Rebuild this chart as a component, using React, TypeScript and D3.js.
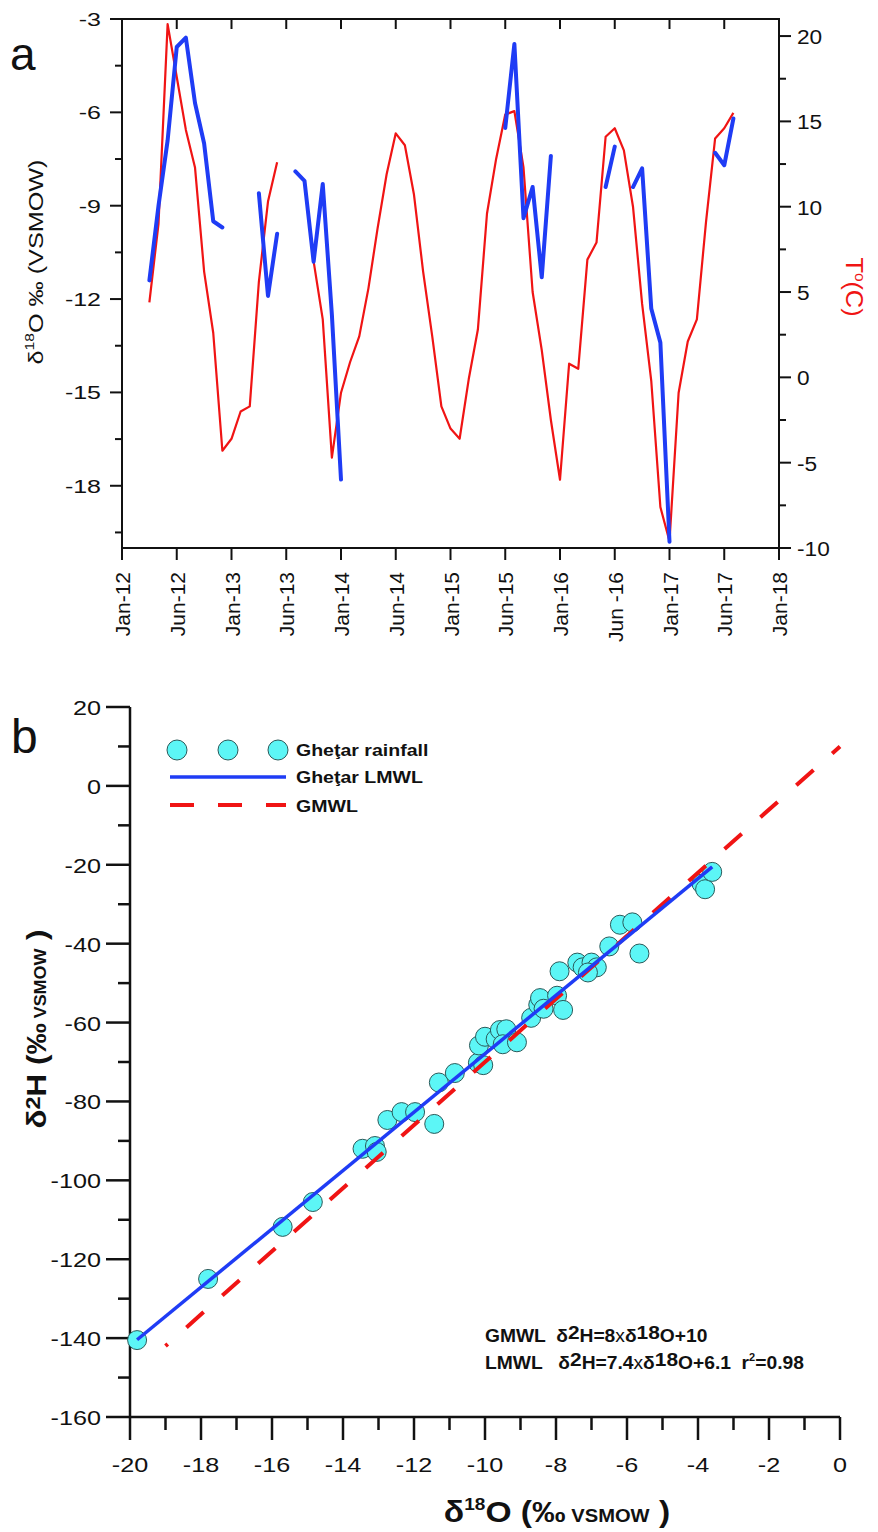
import React from "react";
import * as d3 from "d3";

// panel a: monthly series, month 0 = Jan 2012, null = no sample
const monthTickLabels = ["Jan-12", "Jun-12", "Jan-13", "Jun-13", "Jan-14", "Jun-14", "Jan-15", "Jun-15", "Jan-16", "Jun -16", "Jan-17", "Jun-17", "Jan-18"];
const seriesStartMonth = 3;
const tempValues = [
  4.4, 9.0, 20.7, 17.6, 14.5, 12.3, 6.2, 2.6, -4.3, -3.6, -2.0, -1.7, 5.6, 10.3, 12.6,
  null, null, null,
  6.8, 3.4, -4.7, -0.9, 0.9, 2.4, 5.2, 8.7, 11.9, 14.3, 13.6, 10.7, 6.2, 2.4, -1.7, -3.0, -3.6,
  -0.1, 2.8, 9.6, 12.8, 15.4, 15.6, 12.3, 5.0, 1.6, -2.5, -6.0, 0.8, 0.5, 6.9, 7.9, 14.1, 14.6,
  13.3, 10.0, 4.3, -0.2, -7.6, -9.6, -0.9, 2.1, 3.4, 9.1, 14.0, 14.6, 15.5,
];
const d18OValues = [
  -11.4, -9.0, -6.9, -3.9, -3.6, -5.7, -7.0, -9.5, -9.7,
  null, null, null,
  -8.6, -11.9, -9.9,
  null,
  -7.9, -8.2, -10.8, -8.3, -12.5, -17.8,
  null, null, null, null, null, null, null, null, null, null, null, null, null, null, null, null, null,
  -6.5, -3.8, -9.4, -8.4, -11.3, -7.4,
  null, null, null, null, null,
  -8.4, -7.1,
  null,
  -8.4, -7.8, -12.3, -13.4, -19.8,
  null, null, null, null,
  -7.3, -7.7, -6.2,
];

// panel b: rainfall samples
const rainD18O = [
  -19.8, -17.8, -15.7, -14.85, -13.45, -13.1, -13.05, -12.75, -12.35, -11.97, -11.43, -11.3, -10.85,
  -10.2, -10.05, -10.17, -10.0, -9.7, -9.58, -9.4, -9.5, -9.1, -8.7, -8.5, -8.45, -8.35, -7.97, -7.8,
  -7.9, -7.4, -7.25, -7.0, -6.85, -7.1, -6.5, -6.2, -5.85, -5.65, -3.9, -3.8, -3.6,
];
const rainD2H = [
  -140.5, -125, -111.8, -105.5, -92, -91.3, -92.8, -84.7, -82.7, -82.7, -85.7, -75.2, -72.8,
  -70.2, -70.8, -65.8, -63.6, -64.2, -61.9, -61.7, -65.5, -65, -58.8, -55.5, -53.8, -56.5, -53.2, -56.8,
  -47, -44.8, -46, -44.8, -46, -47.3, -40.7, -35.2, -34.6, -42.5, -24.8, -26.2, -21.8,
];
const gmwl = { slope: 8, intercept: 10, from: -19, to: 0 };
const lmwl = { slope: 7.4, intercept: 6.1, from: -19.8, to: -3.6 };
const legendLabels = ["Gheţar rainfall", "Gheţar LMWL", "GMWL"];

const FONT = "'Liberation Sans', Arial, sans-serif";
const BLUE = "#1f3cf5";
const RED = "#f01414";
const CYAN = "#5cf6f6";

// text helper: stretched horizontally like the source figure
const T = ({ x, y, rot = 0, sx = 1.2, size = 20, anchor = "start", weight = "normal", fill = "#111", children }: any) => (
  <text
    transform={`translate(${x},${y}) rotate(${rot}) scale(${sx},1)`}
    fontSize={size}
    textAnchor={anchor}
    fontWeight={weight}
    fill={fill}
    fontFamily={FONT}
    style={{ whiteSpace: "pre" }}
  >
    {children}
  </text>
);

const App = () => {
  // ---- panel a
  const xA = d3.scaleLinear().domain([0, 72]).range([122, 779]);
  const yO = d3.scaleLinear().domain([-20, -3]).range([548, 19]);
  const yT = d3.scaleLinear().domain([-10, 21]).range([548, 19]);

  const tempPts = tempValues.map((v, i) => [seriesStartMonth + i, v] as [number, number | null]);
  const oPts = d18OValues.map((v, i) => [seriesStartMonth + i, v] as [number, number | null]);

  const tempLine = d3.line<[number, number | null]>()
    .defined(d => d[1] != null)
    .x(d => xA(d[0]))
    .y(d => yT(d[1] as number));
  const oLine = d3.line<[number, number | null]>()
    .defined(d => d[1] != null)
    .x(d => xA(d[0]))
    .y(d => yO(d[1] as number));

  const monthTicks = d3.range(0, 73, 6);
  const oMajor = d3.range(-18, -2, 3);
  const oMinor = d3.range(-19.5, -3, 3);
  const tMajor = d3.range(-10, 21, 5);
  const tMinor = d3.range(-7.5, 20, 5);

  // ---- panel b
  const xB = d3.scaleLinear().domain([-20, 0]).range([130, 840]);
  const yB = d3.scaleLinear().domain([-160, 20]).range([1417, 707]);
  const bxMajor = d3.range(-20, 1, 2);
  const bxMinor = d3.range(-19, 0, 2);
  const byMajor = d3.range(-160, 21, 20);
  const byMinor = d3.range(-150, 20, 20);

  const wl = (l: typeof gmwl) =>
    d3.line<number>().x(v => xB(v)).y(v => yB(l.slope * v + l.intercept))([l.from, l.to]) as string;

  const ax = { stroke: "#111", strokeWidth: 2, fill: "none" };

  return (
    <svg width={878} height={1532} style={{ position: "absolute", left: 0, top: 0, background: "#fff" }}>
      {/* ================= panel a ================= */}
      <T x={10} y={70} size={46} sx={1}>a</T>
      <rect x={xA(0)} y={yO(-3)} width={xA(72) - xA(0)} height={yO(-20) - yO(-3)} {...ax} />
      {monthTicks.map((m, i) => (
        <g key={"mt" + m}>
          <line x1={xA(m)} x2={xA(m)} y1={548} y2={560} {...ax} />
          {m > 0 && m < 72 && <line x1={xA(m)} x2={xA(m)} y1={19} y2={29} {...ax} />}
          <T x={xA(m) + 8} y={572} rot={-90} sx={1} size={21} anchor="end">{monthTickLabels[i]}</T>
        </g>
      ))}
      {oMajor.map(v => (
        <g key={"om" + v}>
          <line x1={110} x2={122} y1={yO(v)} y2={yO(v)} {...ax} />
          <T x={101} y={yO(v) + 7} size={18.5} sx={1.35} anchor="end">{v}</T>
        </g>
      ))}
      {oMinor.map(v => <line key={"on" + v} x1={115} x2={122} y1={yO(v)} y2={yO(v)} {...ax} />)}
      {tMajor.map(v => (
        <g key={"tm" + v}>
          <line x1={779} x2={791} y1={yT(v)} y2={yT(v)} {...ax} />
          <T x={797} y={yT(v) + 8} size={21} sx={1.08}>{v}</T>
        </g>
      ))}
      {tMinor.map(v => <line key={"tn" + v} x1={779} x2={786} y1={yT(v)} y2={yT(v)} {...ax} />)}

      <path d={tempLine(tempPts) as string} fill="none" stroke={RED} strokeWidth={2.2} strokeLinejoin="round" />
      <path d={oLine(oPts) as string} fill="none" stroke={BLUE} strokeWidth={4} strokeLinejoin="round" strokeLinecap="round" />

      <text transform="translate(43,262) rotate(-90) scale(1.2,1)" textAnchor="middle" fontSize={21} fontFamily={FONT} fill="#111">
        δ<tspan fontSize={13} dy={-9}>18</tspan><tspan dy={9}>O ‰ (VSMOW)</tspan>
      </text>
      <text transform="translate(846,287) rotate(90) scale(1.1,1)" textAnchor="middle" fontSize={23} fontFamily={FONT} fill={RED}>
        T<tspan fontSize={14} dy={-9}>o</tspan><tspan dy={9}>(C)</tspan>
      </text>

      {/* ================= panel b ================= */}
      <T x={11} y={753} size={48} sx={1}>b</T>
      <line x1={130} x2={130} y1={yB(20)} y2={yB(-160)} {...ax} strokeWidth={2.5} />
      <line x1={xB(-20)} x2={xB(0)} y1={1417} y2={1417} {...ax} strokeWidth={2.5} />
      {byMajor.map(v => (
        <g key={"bym" + v}>
          <line x1={106} x2={130} y1={yB(v)} y2={yB(v)} {...ax} strokeWidth={2.5} />
          <T x={101} y={yB(v) + 8} size={21} anchor="end">{v}</T>
        </g>
      ))}
      {byMinor.map(v => <line key={"byn" + v} x1={118} x2={130} y1={yB(v)} y2={yB(v)} {...ax} strokeWidth={2.5} />)}
      {bxMajor.map(v => (
        <g key={"bxm" + v}>
          <line x1={xB(v)} x2={xB(v)} y1={1417} y2={1440} {...ax} strokeWidth={2.5} />
          <T x={xB(v)} y={1472} size={21} anchor="middle">{v}</T>
        </g>
      ))}
      {bxMinor.map(v => <line key={"bxn" + v} x1={xB(v)} x2={xB(v)} y1={1417} y2={1430} {...ax} strokeWidth={2.5} />)}

      {rainD18O.map((x, i) => (
        <circle key={"p" + i} cx={xB(x)} cy={yB(rainD2H[i])} r={9.5} fill={CYAN} stroke="#2a5a5a" strokeWidth={1} />
      ))}
      <path d={wl(gmwl)} fill="none" stroke={RED} strokeWidth={4} strokeDasharray="23 25" strokeDashoffset={20} />
      <path d={wl(lmwl)} fill="none" stroke={BLUE} strokeWidth={3.5} />

      {/* legend */}
      {[177, 228, 278].map(cx => (
        <circle key={"lc" + cx} cx={cx} cy={750} r={10} fill={CYAN} stroke="#2a5a5a" strokeWidth={1} />
      ))}
      <line x1={170} x2={286} y1={777} y2={777} stroke={BLUE} strokeWidth={3.5} />
      <line x1={170} x2={286} y1={805} y2={805} stroke={RED} strokeWidth={4} strokeDasharray="24 24" />
      <T x={296} y={756} size={17} weight="bold" sx={1.15}>{legendLabels[0]}</T>
      <T x={296} y={783} size={17} weight="bold" sx={1.15}>{legendLabels[1]}</T>
      <T x={296} y={812} size={17} weight="bold" sx={1.15}>{legendLabels[2]}</T>

      {/* equations */}
      <text transform="translate(485,1342) scale(1.1,1)" fontSize={17.5} fontWeight="bold" fontFamily={FONT} fill="#111" style={{ whiteSpace: "pre" }}>
        {"GMWL  δ"}<tspan fontSize={19} dy={-3}>2</tspan><tspan dy={3}>{"H=8"}</tspan><tspan fontWeight="normal">x</tspan>{"δ"}
        <tspan fontSize={19} dy={-3}>18</tspan><tspan dy={3}>{"O+10"}</tspan>
      </text>
      <text transform="translate(485,1369) scale(1.1,1)" fontSize={17.5} fontWeight="bold" fontFamily={FONT} fill="#111" style={{ whiteSpace: "pre" }}>
        {"LMWL   δ"}<tspan fontSize={19} dy={-3}>2</tspan><tspan dy={3}>{"H=7.4"}</tspan><tspan fontWeight="normal">x</tspan>{"δ"}
        <tspan fontSize={19} dy={-3}>18</tspan><tspan dy={3}>{"O+6.1  r"}</tspan><tspan fontSize={10} dy={-8}>2</tspan><tspan dy={8}>{"=0.98"}</tspan>
      </text>

      {/* axis titles */}
      <text transform="translate(46,1029) rotate(-90) scale(1.12,1)" textAnchor="middle" fontSize={28} fontWeight="bold" fontFamily={FONT} fill="#111" style={{ whiteSpace: "pre" }}>
        δ<tspan fontSize={21} dy={-6}>2</tspan><tspan dy={6}>{"H (‰"}</tspan><tspan fontSize={16}>{" VSMOW"}</tspan><tspan>{" )"}</tspan>
      </text>
      <text transform="translate(557,1522) scale(1.12,1)" textAnchor="middle" fontSize={30} fontWeight="bold" fontFamily={FONT} fill="#111" style={{ whiteSpace: "pre" }}>
        δ<tspan fontSize={17} dy={-12}>18</tspan><tspan dy={12}>{"O (‰"}</tspan><tspan fontSize={18}>{" VSMOW"}</tspan><tspan>{" )"}</tspan>
      </text>
    </svg>
  );
};

export default App;
